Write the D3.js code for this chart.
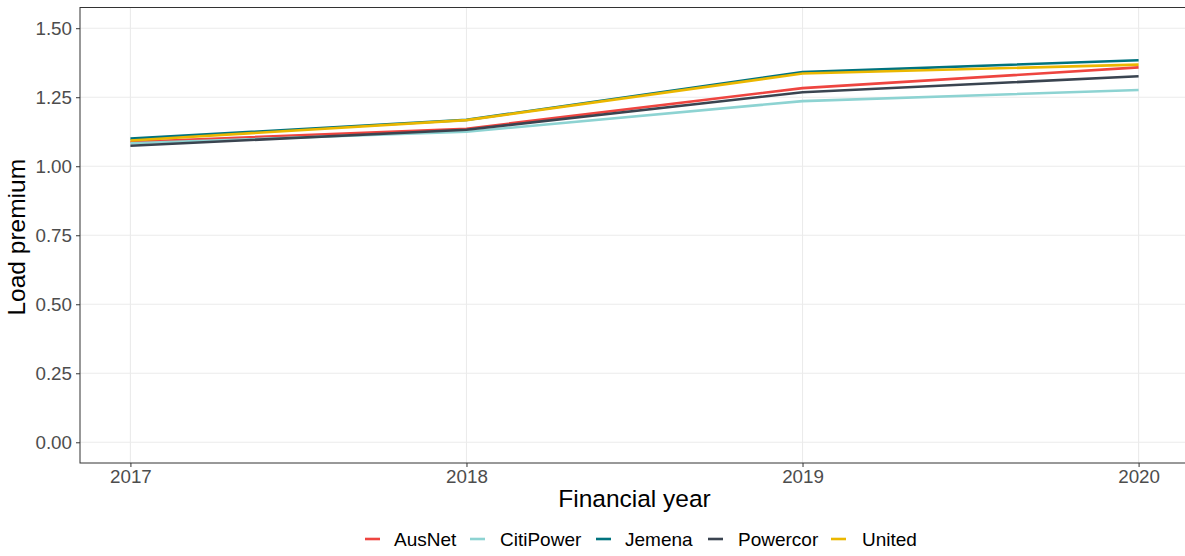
<!DOCTYPE html>
<html><head><meta charset="utf-8">
<script src="https://cdn.jsdelivr.net/npm/d3@7"></script>
<style>body{margin:0;background:#fff}svg{display:block}text{font-family:"Liberation Sans",Arial,sans-serif}</style>
</head><body><svg id="c" width="1185" height="556"></svg>
<script>
const years = [2017, 2018, 2019, 2020];
const seriesNames = ["AusNet", "CitiPower", "Jemena", "Powercor", "United"];
const AusNet = [1.088, 1.136, 1.283, 1.358];
const CitiPower = [1.083, 1.125, 1.236, 1.276];
const Jemena = [1.100, 1.168, 1.341, 1.384];
const Powercor = [1.074, 1.132, 1.268, 1.326];
const United = [1.093, 1.167, 1.336, 1.368];
const colors = ["#EE4540", "#8DD3D2", "#00737E", "#3A4450", "#EBB700"];
const yTicks = [0, 0.25, 0.5, 0.75, 1.0, 1.25, 1.5];

const values = [AusNet, CitiPower, Jemena, Powercor, United];
const svg = d3.select("#c");
const L = 80, R = 1189, T = 7.5, B = 463;
const x = d3.scaleLinear().domain([2017 - 0.15, 2020 + 0.15]).range([L, R]);
const y = d3.scaleLinear().domain([-0.075, 1.575]).range([B, T]);

const g = svg.append("g");
g.selectAll(".gy").data(yTicks).enter().append("line")
  .attr("x1", L).attr("x2", R).attr("y1", d => y(d)).attr("y2", d => y(d))
  .attr("stroke", "#EBEBEB").attr("stroke-width", 1.1);
g.selectAll(".gx").data(years).enter().append("line")
  .attr("y1", T).attr("y2", B).attr("x1", d => x(d)).attr("x2", d => x(d))
  .attr("stroke", "#EBEBEB").attr("stroke-width", 1.1);

const line = d3.line().x((d, i) => x(years[i])).y(d => y(d));
values.forEach((v, k) => {
  g.append("path").datum(v).attr("d", line).attr("fill", "none")
    .attr("stroke", colors[k]).attr("stroke-width", 2.6);
});

g.append("rect").attr("x", L).attr("y", T).attr("width", R - L).attr("height", B - T)
  .attr("fill", "none").attr("stroke", "#333333").attr("stroke-width", 1);

const ya = svg.append("g").attr("transform", `translate(${L},0)`)
  .call(d3.axisLeft(y).tickValues(yTicks).tickFormat(d3.format(".2f")).tickSize(4).tickPadding(4));
const xa = svg.append("g").attr("transform", `translate(0,${B})`)
  .call(d3.axisBottom(x).tickValues(years).tickFormat(d3.format("d")).tickSize(4).tickPadding(3));
[ya, xa].forEach(a => {
  a.select(".domain").remove();
  a.selectAll("line").attr("stroke", "#333333");
  a.selectAll("text").attr("fill", "#4D4D4D").style("font-size", "18.8px");
});

svg.append("text").attr("x", (L + R) / 2).attr("y", 507).attr("text-anchor", "middle")
  .style("font-size", "24.5px").attr("fill", "#000").text("Financial year");
svg.append("text").attr("transform", `translate(25,${(T + B) / 2 + 2}) rotate(-90)`).attr("text-anchor", "middle")
  .style("font-size", "24.5px").attr("fill", "#000").text("Load premium");

const lg = svg.append("g");
const keyX = [365, 470, 596, 708, 831];
const txtX = [394, 500, 625, 738, 862];
seriesNames.forEach((n, k) => {
  lg.append("line").attr("x1", keyX[k]).attr("x2", keyX[k] + 15).attr("y1", 539).attr("y2", 539)
    .attr("stroke", colors[k]).attr("stroke-width", 2.6);
  lg.append("text").attr("x", txtX[k]).attr("y", 545.5).style("font-size", "19px")
    .attr("fill", "#000").text(n);
});
</script></body></html>
